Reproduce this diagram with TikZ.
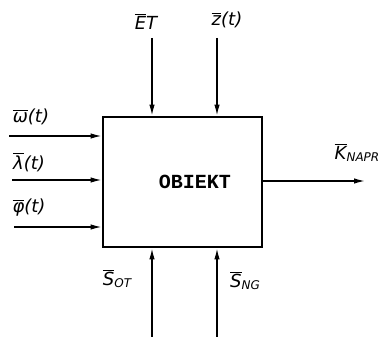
\documentclass[tikz,border=0pt]{standalone}
\usepackage{fontspec}
\usepackage{tikz}
\usetikzlibrary{arrows.meta,positioning,calc}
\newfontfamily\lblfont{DejaVu Sans}
\newfontfamily\objfont{Liberation Mono}
\newcommand{\barred}[1]{\begingroup\setbox0\hbox{#1}%
  \vbox{\hrule height 1.2pt width \wd0\kern 1.6pt\box0}\endgroup}
\newcommand{\subs}[1]{\raisebox{-2pt}{\fontsize{12}{12}\selectfont #1}}

\begin{document}
\begin{tikzpicture}[
  x=1pt,y=-1pt,
  box/.style={rectangle,draw=black,line width=2.8pt,fill=white,
              minimum width=159pt,minimum height=130pt,
              font=\objfont\bfseries\fontsize{20}{20}\selectfont,inner sep=0pt},
  lbl/.style={font=\lblfont\itshape\fontsize{18}{20}\selectfont,inner sep=1pt},
  arr/.style={-{Latex[length=11pt,width=5.5pt]},black,line width=1.4pt}
]
  \useasboundingbox (0,0) rectangle (388,337);
  \node[box](obj) at (182.5,182){\hspace*{25pt}OBIEKT};

  % inputs from the left
  \coordinate (w) at (9,136);
  \coordinate (l) at (12,180);
  \coordinate (f) at (14,227);
  \draw[arr](w)--(w -| obj.west);
  \draw[arr](l)--(l -| obj.west);
  \draw[arr](f)--(f -| obj.west);
  \node[lbl](wlbl) at (31,117){\barred{ω}(t)};
  \node[lbl](llbl) at (29,162){\barred{λ}(t)};
  \node[lbl](flbl) at (29,208){\barred{φ}(t)};

  % inputs from above
  \coordinate (et) at (152,38);
  \coordinate (z) at (217,38);
  \draw[arr](et)--(et |- obj.north);
  \draw[arr](z)--(z |- obj.north);
  \node[lbl](etlbl) at (146,22){\barred{E}T};
  \node[lbl](zlbl) at (227,20){\barred{z}(t)};

  % inputs from below
  \coordinate (sot) at (152,337);
  \coordinate (sng) at (217,337);
  \draw[arr](sot)--(sot |- obj.south);
  \draw[arr](sng)--(sng |- obj.south);
  \node[lbl](sotlbl) at (117,279){\barred{S}\subs{OT}};
  \node[lbl](snglbl) at (245,281){\barred{S}\subs{NG}};

  % output
  \coordinate (k) at (365,181);
  \draw[arr](obj.east |- k)--(k);
  \node[lbl](klbl) at (357,153){\barred{K}\subs{NAPR}};
\end{tikzpicture}
\end{document}
